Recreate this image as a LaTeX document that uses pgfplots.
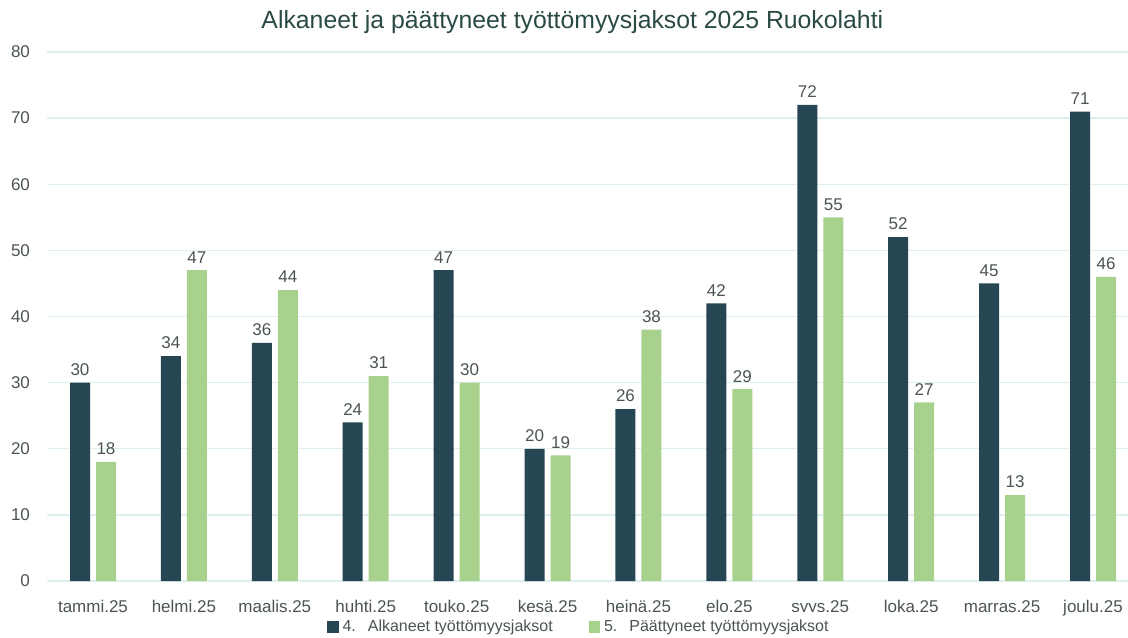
\documentclass[border=0pt]{standalone}
\usepackage{pgfplots}
\pgfplotsset{compat=1.18}
\usepackage{fontspec}
\setmainfont{Liberation Sans}
\definecolor{darkbar}{HTML}{264653}
\definecolor{greenbar}{HTML}{A9D18E}
\definecolor{gridc}{HTML}{DDF0EE}
\definecolor{txt}{HTML}{4A5553}
\definecolor{titlec}{HTML}{2A4A45}
\begin{document}
\begin{tikzpicture}[x=1pt,y=1pt]
\useasboundingbox (-23.5,-28) rectangle (540.5,290.5);
\begin{axis}[
  at={(0,0)}, anchor=south west,
  scale only axis, width=540.5pt, height=264.5pt,
  ybar=3pt, bar width=10pt,
  xmin=-0.506, xmax=11.385, ymin=0, ymax=80,
  xtick={0,...,11},
  xticklabels={tammi.25,helmi.25,maalis.25,huhti.25,touko.25,kesä.25,heinä.25,elo.25,syys.25,loka.25,marras.25,joulu.25},
  ytick={0,10,...,80},
  ymajorgrids, grid style={gridc, line width=0.7pt},
  axis line style={draw=none}, major tick style={draw=none},
  /pgf/number format/assume math mode=true,
  ticklabel style={font=\fontsize{8.5}{10}\selectfont, text=txt},
  xticklabel style={yshift=-2pt},
  yticklabel style={xshift=-5pt},
  nodes near coords,
  every node near coord/.append style={font=\fontsize{8.5}{10}\selectfont, text=txt},
  title={Alkaneet ja päättyneet työttömyysjaksot 2025 Ruokolahti},
  title style={font=\fontsize{12.4}{14}\selectfont, text=titlec, at={(0.486,1)}, anchor=center, yshift=9pt},
  legend columns=2,
  legend style={draw=none, at={(0.493,0)}, anchor=center, yshift=-23pt,
    font=\fontsize{8}{10}\selectfont, text=txt,
    /tikz/every even column/.append style={column sep=16pt}},
  legend image code/.code={\fill[#1] (0pt,-2.8pt) rectangle (5.6pt,2.8pt);},
]
\addplot[fill=darkbar, draw=none] coordinates {(0,30) (1,34) (2,36) (3,24) (4,47) (5,20) (6,26) (7,42) (8,72) (9,52) (10,45) (11,71)};
\addplot[fill=greenbar, draw=none] coordinates {(0,18) (1,47) (2,44) (3,31) (4,30) (5,19) (6,38) (7,29) (8,55) (9,27) (10,13) (11,46)};
\legend{4.\hspace{6pt}Alkaneet työttömyysjaksot, 5.\hspace{6pt}Päättyneet työttömyysjaksot}
\end{axis}
\end{tikzpicture}
\end{document}
